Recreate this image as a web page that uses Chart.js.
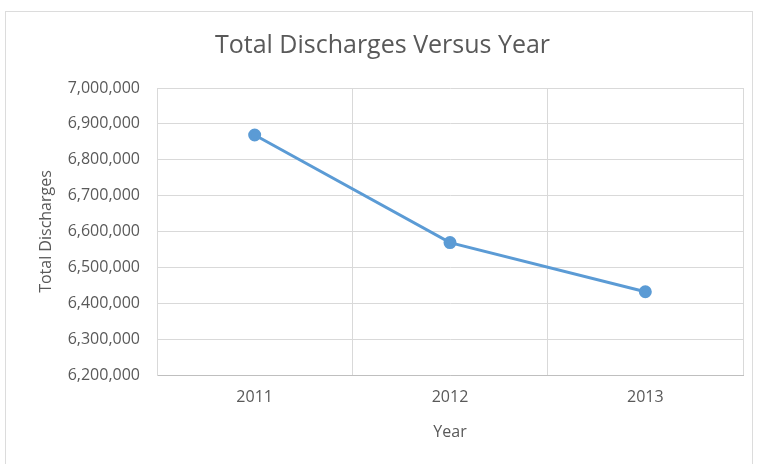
<!DOCTYPE html>
<html>
<head>
<meta charset="utf-8">
<script src="https://cdn.jsdelivr.net/npm/chart.js@4/dist/chart.umd.min.js"></script>
<style>
  html, body { margin: 0; padding: 0; background: #fff; }
  #wrap { position: relative; width: 758px; height: 464px; }
</style>
</head>
<body>
<div id="wrap"><canvas id="chart-descargas" width="758" height="464"></canvas></div>
<script>
// dados do gráfico
const anos = ['2011', '2012', '2013'];
const totalDescargas = [6869000, 6569000, 6432000];
const eixoYMin = 6200000;
const eixoYMax = 7000000;
const eixoYPasso = 100000;

const corTexto = '#595959';
const corGrade = '#d9d9d9';

// moldura clara em volta do gráfico
const moldura = {
  id: 'moldura',
  beforeDraw(chart) {
    const ctx = chart.ctx;
    ctx.save();
    ctx.fillStyle = '#fff';
    ctx.fillRect(0, 0, chart.width, chart.height);
    ctx.strokeStyle = '#dcdcdc';
    ctx.lineWidth = 1;
    ctx.strokeRect(5.5, 11.5, 747, 470);
    ctx.restore();
  }
};

const fmt = v => v.toLocaleString('en-US');

new Chart(document.getElementById('chart-descargas').getContext('2d'), {
  type: 'line',
  data: {
    labels: anos,
    datasets: [{
      label: 'Total Discharges',
      data: totalDescargas,
      borderColor: '#5b9bd5',
      backgroundColor: '#5b9bd5',
      borderWidth: 3,
      pointRadius: 5,
      pointHoverRadius: 5,
      fill: false,
      tension: 0
    }]
  },
  options: {
    responsive: false,
    animation: false,
    layout: { padding: { top: 0, left: 22, right: 15, bottom: 10 } },
    plugins: {
      legend: { display: false },
      tooltip: { enabled: false },
      title: {
        display: true,
        text: 'Total Discharges Versus Year',
        color: corTexto,
        font: { family: 'Open Sans', size: 25, weight: 'normal' },
        padding: { top: 31, bottom: 27 }
      }
    },
    scales: {
      x: {
        offset: true,
        grid: { offset: true, color: corGrade, drawTicks: false },
        border: { color: '#bfbfbf' },
        ticks: { color: corTexto, font: { family: 'Open Sans', size: 16 }, padding: 13 },
        title: {
          display: true, text: 'Year', color: corTexto,
          font: { family: 'Open Sans', size: 16 }, padding: { top: 0, bottom: 12 }
        },
        afterFit: s => { s.height = 79; }
      },
      y: {
        min: eixoYMin,
        max: eixoYMax,
        grid: { color: corGrade, drawTicks: false },
        border: { color: corGrade },
        ticks: {
          stepSize: eixoYPasso,
          color: corTexto,
          font: { family: 'Open Sans', size: 16 },
          padding: 17,
          callback: v => fmt(v)
        },
        title: {
          display: true, text: 'Total Discharges', color: corTexto,
          font: { family: 'Open Sans', size: 16 }, padding: { top: 15, bottom: 0 }
        },
        afterFit: s => { s.width = 135; }
      }
    }
  },
  plugins: [moldura]
});
</script>
</body>
</html>
